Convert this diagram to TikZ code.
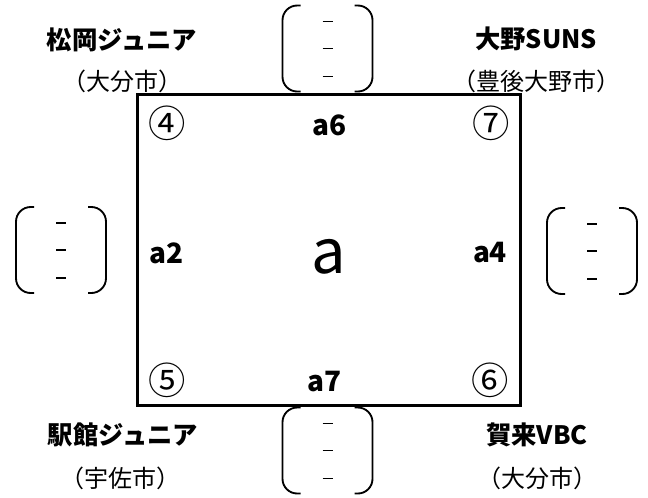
\documentclass[tikz,border=0pt]{standalone}
\usepackage{fontspec}
\setmainfont{Noto Sans CJK JP}
\tikzset{
  team/.style={font=\bfseries\fontsize{19}{19}\selectfont,inner sep=0pt},
  city/.style={font=\fontsize{18}{18}\selectfont,inner sep=0pt},
  seat/.style={font=\fontsize{28}{28}\selectfont,inner sep=0pt},
  game/.style={font=\bfseries\fontsize{21}{21}\selectfont,inner sep=0pt},
  court/.style={line width=2.25pt},
  bracket/.style={line width=1.4pt,rounded corners=11pt},
  tick/.style={line width=0.8pt}
}
\begin{document}
\begin{tikzpicture}[x=0.75pt,y=-0.75pt]
 \useasboundingbox (0,0) rectangle (648,497);
 \draw[court] (137,94) rectangle (520,405);
 \foreach \cx/\cy in {327.5/48.5,327.5/450.5,61/250,592/251}{
	\draw[bracket] (\cx-27,\cy-43) -- (\cx-45,\cy-43) -- (\cx-45,\cy+43) -- (\cx-27,\cy+43);
	\draw[bracket] (\cx+27,\cy-43) -- (\cx+45,\cy-43) -- (\cx+45,\cy+43) -- (\cx+27,\cy+43);
	\foreach \dy in {-27,0,28}{
		\draw[tick] (\cx-5,\cy+\dy) -- (\cx+5,\cy+\dy);}}
 \node[team] (matsuoka) at (122,40) {松岡ジュニア};
 \node[city] (matsuokacity) at (122,81) {（大分市）};
 \node[team] (ono) at (536,39) {大野SUNS};
 \node[city] (onocity) at (536,81) {（豊後大野市）};
 \node[team] (ekidate) at (123,435) {駅館ジュニア};
 \node[city] (ekidatecity) at (120,478) {（宇佐市）};
 \node[team] (kaku) at (537,435) {賀来VBC};
 \node[city] (kakucity) at (537,478) {（大分市）};
 \node[seat] (s4) at (167,123) {④};
 \node[seat] (s7) at (491,123) {⑦};
 \node[seat] (s5) at (167,380) {⑤};
 \node[seat] (s6) at (490,380) {⑥};
 \node[game] (a6) at (330,125) {a6};
 \node[game] (a7) at (325,382) {a7};
 \node[game] (a2) at (167,253) {a2};
 \node[game] (a4) at (490,253) {a4};
 \node[font=\fontsize{46}{46}\selectfont,inner sep=0pt] (block) at (329,257) {a};
\end{tikzpicture}
\end{document}
